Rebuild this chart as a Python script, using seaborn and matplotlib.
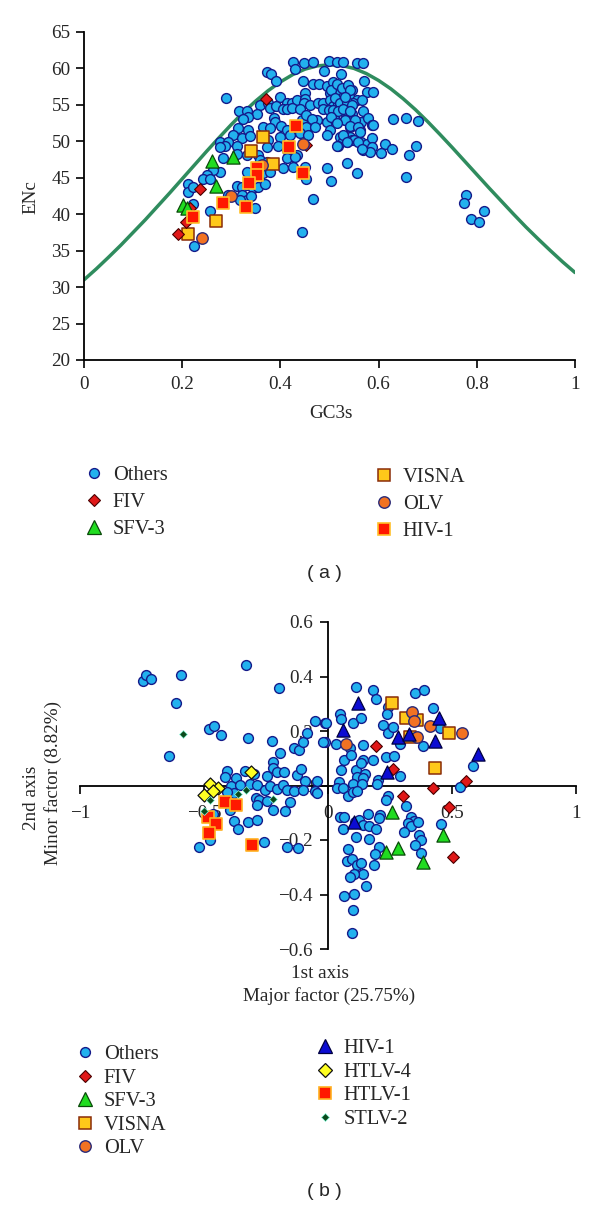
# ENc plot (a) and correspondence analysis plot (b) of retrovirus genes
import seaborn as sns
import matplotlib.pyplot as plt
from matplotlib.lines import Line2D

# ---------------- data: panel (a), GC3s vs ENc ----------------
gc3_ticks = [0, 0.2, 0.4, 0.6, 0.8, 1]
gc3_labels = ["0", "0.2", "0.4", "0.6", "0.8", "1"]
enc_ticks = [20, 25, 30, 35, 40, 45, 50, 55, 60, 65]

# expected ENc curve
curve_gc3 = [0, 0.025, 0.05, 0.075, 0.1, 0.125, 0.15, 0.175, 0.2, 0.225, 0.25, 0.275,
             0.3, 0.325, 0.35, 0.375, 0.4, 0.425, 0.45, 0.475, 0.5, 0.525, 0.55, 0.575,
             0.6, 0.625, 0.65, 0.675, 0.7, 0.725, 0.75, 0.775, 0.8, 0.825, 0.85, 0.875,
             0.9, 0.925, 0.95, 0.975, 1.0]
curve_enc = [31.0, 32.5, 34.1, 35.75, 37.5, 39.25, 41.1, 42.95, 44.85, 46.75, 48.65, 50.5,
             52.3, 54.0, 55.55, 56.95, 58.15, 59.15, 59.9, 60.35, 60.5, 60.4, 60.0, 59.3,
             58.35, 57.2, 55.85, 54.35, 52.7, 50.95, 49.15, 47.3, 45.45, 43.6, 41.8, 40.0,
             38.25, 36.6, 35.0, 33.45, 32.0]

a_others = [
    (0.425, 60.9), (0.449, 60.8), (0.466, 60.9), (0.498, 61.0), (0.515, 60.9), (0.527, 60.9),
    (0.555, 60.8), (0.569, 60.7), (0.372, 59.5), (0.381, 59.2), (0.392, 58.3), (0.430, 59.9),
    (0.489, 59.6), (0.523, 59.3), (0.571, 58.3), (0.447, 58.3), (0.467, 57.8), (0.479, 57.8),
    (0.494, 57.6), (0.508, 58.1), (0.538, 57.6), (0.545, 57.0), (0.515, 57.1), (0.501, 56.6),
    (0.521, 56.6), (0.528, 56.1), (0.542, 56.0), (0.555, 55.7), (0.576, 56.8), (0.289, 55.9),
    (0.399, 56.1), (0.413, 55.2), (0.423, 55.2), (0.433, 55.7), (0.450, 56.6), (0.450, 55.8),
    (0.449, 55.2), (0.460, 55.0), (0.477, 55.2), (0.487, 55.3), (0.501, 55.7), (0.508, 54.8),
    (0.518, 55.1), (0.531, 55.4), (0.547, 55.2), (0.567, 55.7), (0.358, 55.0), (0.375, 55.2),
    (0.379, 54.6), (0.392, 54.8), (0.405, 54.5), (0.413, 54.5), (0.424, 54.6), (0.440, 54.5),
    (0.486, 54.5), (0.498, 54.3), (0.515, 54.3), (0.528, 54.1), (0.545, 53.8), (0.569, 54.1),
    (0.316, 54.2), (0.331, 54.1), (0.352, 53.8), (0.335, 53.4), (0.324, 53.0), (0.386, 53.2),
    (0.389, 52.6), (0.443, 52.9), (0.453, 53.6), (0.474, 52.9), (0.464, 53.0), (0.494, 52.7),
    (0.511, 52.9), (0.531, 52.9), (0.548, 52.9), (0.565, 52.7), (0.579, 53.2), (0.314, 51.8),
    (0.335, 51.6), (0.365, 51.9), (0.379, 51.8), (0.402, 52.1), (0.413, 51.6), (0.440, 51.9),
    (0.453, 52.0), (0.470, 51.9), (0.501, 51.6), (0.542, 51.9), (0.562, 51.6), (0.304, 50.9),
    (0.321, 50.4), (0.338, 50.7), (0.375, 50.2), (0.399, 50.6), (0.419, 50.9), (0.440, 51.1),
    (0.457, 50.9), (0.494, 50.9), (0.521, 50.6), (0.542, 50.6), (0.555, 50.2), (0.277, 49.9),
    (0.294, 49.9), (0.287, 49.3), (0.311, 49.4), (0.372, 49.2), (0.396, 49.3), (0.413, 48.8),
    (0.433, 48.1), (0.528, 50.1), (0.535, 49.9), (0.545, 50.2), (0.565, 49.9), (0.576, 49.7),
    (0.518, 49.3), (0.569, 48.8), (0.277, 49.2), (0.284, 47.7), (0.311, 48.2), (0.331, 48.1),
    (0.355, 48.1), (0.358, 47.4), (0.372, 47.2), (0.413, 47.7), (0.430, 47.9), (0.277, 45.8),
    (0.263, 46.1), (0.250, 45.4), (0.243, 44.8), (0.256, 44.9), (0.331, 45.8), (0.365, 45.6),
    (0.379, 45.8), (0.406, 46.3), (0.426, 46.5), (0.450, 46.5), (0.494, 46.3), (0.535, 47.0),
    (0.555, 45.7), (0.212, 44.2), (0.212, 43.1), (0.223, 43.8), (0.311, 43.9), (0.321, 43.8),
    (0.331, 44.0), (0.345, 43.6), (0.355, 43.8), (0.369, 44.2), (0.453, 44.9), (0.504, 44.5),
    (0.294, 42.7), (0.321, 42.7), (0.331, 42.0), (0.341, 42.5), (0.318, 41.9), (0.348, 40.8),
    (0.223, 41.4), (0.256, 40.5), (0.467, 42.1), (0.224, 35.7), (0.443, 37.5),
    (0.588, 56.7), (0.629, 53.0), (0.656, 53.2), (0.680, 52.8), (0.587, 52.3), (0.586, 50.4),
    (0.586, 49.2), (0.582, 48.5), (0.613, 49.6), (0.627, 49.0), (0.604, 48.4), (0.676, 49.3),
    (0.662, 48.1), (0.655, 45.1), (0.778, 42.6), (0.773, 41.5), (0.815, 40.5), (0.788, 39.4),
    (0.805, 38.9), (0.504, 57.0), (0.515, 57.9), (0.525, 57.3), (0.538, 57.7), (0.542, 57.0),
    (0.511, 55.9), (0.521, 55.2), (0.535, 55.4), (0.532, 56.1), (0.545, 55.0), (0.508, 54.3),
    (0.518, 54.1), (0.528, 54.5), (0.542, 54.1), (0.504, 53.4), (0.532, 52.9), (0.552, 52.9),
    (0.515, 52.5), (0.542, 52.1), (0.559, 51.9), (0.562, 51.3), (0.528, 50.9), (0.549, 50.2),
    (0.535, 49.9), (0.559, 49.9), (0.566, 49.0), (0.516, 49.4), (0.589, 52.2),
]
a_fiv = [(0.370, 55.8), (0.236, 43.4), (0.208, 38.9), (0.192, 37.25), (0.215, 40.8), (0.452, 49.5)]
a_sfv3 = [(0.260, 47.35), (0.304, 47.8), (0.268, 43.9), (0.202, 41.3), (0.209, 40.9)]
a_visna = [(0.364, 50.55), (0.341, 48.7), (0.384, 46.9), (0.268, 39.1), (0.212, 37.25)]
a_olv = [(0.299, 42.5), (0.240, 36.8), (0.447, 49.7), (0.362, 46.8)]
a_hiv1 = [(0.432, 52.15), (0.418, 49.2), (0.352, 46.4), (0.353, 45.4), (0.337, 44.3),
          (0.447, 45.6), (0.284, 41.6), (0.330, 41.0), (0.221, 39.6)]

# ---------------- data: panel (b), correspondence analysis ----------------
ax1_ticks = [-1, -0.5, 0, 0.5, 1]
ax1_labels = ["\u22121", "\u22120.5", "0", "0.5", "1"]
ax2_ticks = [0.6, 0.4, 0.2, 0, -0.2, -0.4, -0.6]
ax2_labels = ["0.6", "0.4", "0.2", "0", "\u22120.2", "\u22120.4", "\u22120.6"]

b_others = [
    (-0.747, 0.383), (-0.735, 0.407), (-0.715, 0.389), (-0.592, 0.407), (-0.330, 0.444),
    (-0.196, 0.356), (-0.613, 0.301), (-0.641, 0.109), (-0.479, 0.209), (-0.458, 0.218),
    (-0.431, 0.185), (-0.321, 0.175), (-0.227, 0.164), (-0.193, 0.120), (-0.139, 0.138),
    (-0.115, 0.130), (-0.102, 0.160), (-0.086, 0.194), (-0.052, 0.236), (-0.012, 0.228),
    (-0.014, 0.158), (-0.408, 0.053), (-0.415, 0.032), (-0.371, 0.026), (-0.334, 0.053),
    (-0.297, 0.044), (-0.247, 0.036), (-0.220, 0.087), (-0.223, 0.065), (-0.207, 0.048),
    (-0.177, 0.048), (-0.126, 0.040), (-0.110, 0.062), (-0.092, 0.016), (-0.045, 0.016),
    (-0.392, -0.001), (-0.354, 0.001), (-0.314, 0.004), (-0.287, 0.001), (-0.254, -0.015),
    (-0.233, -0.001), (-0.207, -0.013), (-0.180, 0.001), (-0.166, -0.017), (-0.139, -0.021),
    (-0.099, -0.017), (-0.052, -0.021), (-0.043, -0.029), (-0.381, -0.029), (-0.408, -0.023),
    (-0.290, -0.045), (-0.278, -0.054), (-0.285, -0.072), (-0.244, -0.057), (-0.223, -0.090),
    (-0.173, -0.094), (-0.153, -0.060), (-0.395, -0.090), (-0.379, -0.131), (-0.361, -0.160),
    (-0.321, -0.133), (-0.287, -0.127), (-0.465, -0.103), (-0.475, -0.201), (-0.522, -0.227),
    (-0.260, -0.207), (-0.166, -0.225), (-0.119, -0.231),
    (0.183, 0.350), (0.193, 0.317), (0.351, 0.338), (0.387, 0.350), (0.112, 0.362),
    (0.243, 0.289), (0.239, 0.261), (0.048, 0.261), (0.051, 0.243), (-0.008, 0.228),
    (0.099, 0.231), (0.132, 0.246), (0.223, 0.221), (0.243, 0.193), (0.261, 0.215),
    (-0.019, 0.158), (0.031, 0.151), (0.089, 0.136), (0.140, 0.148), (0.290, 0.151),
    (0.384, 0.146), (0.425, 0.283), (0.452, 0.212), (0.586, 0.071), (0.065, 0.093),
    (0.091, 0.111), (0.140, 0.093), (0.180, 0.093), (0.234, 0.105), (0.266, 0.109),
    (0.051, 0.056), (0.113, 0.056), (0.132, 0.081), (0.116, 0.032), (0.149, 0.044),
    (0.140, 0.026), (0.099, 0.007), (0.046, 0.013), (0.136, 0.007), (0.203, 0.020),
    (0.199, 0.007), (0.290, 0.034), (0.035, -0.008), (0.059, -0.008), (0.082, -0.038),
    (0.102, -0.023), (0.118, -0.021), (0.243, -0.038), (0.234, -0.054), (0.314, -0.075),
    (0.532, -0.005), (0.048, -0.115), (0.065, -0.115), (0.059, -0.158), (0.109, -0.133),
    (0.126, -0.127), (0.140, -0.145), (0.163, -0.103), (0.167, -0.148), (0.193, -0.160),
    (0.210, -0.109), (0.207, -0.121), (0.113, -0.188), (0.167, -0.197), (0.335, -0.115),
    (0.347, -0.131), (0.324, -0.139), (0.333, -0.148), (0.364, -0.133), (0.308, -0.172),
    (0.368, -0.180), (0.374, -0.200), (0.351, -0.219), (0.454, -0.143), (0.204, -0.225),
    (0.189, -0.252), (0.082, -0.234), (0.078, -0.278), (0.095, -0.270), (0.116, -0.292),
    (0.132, -0.286), (0.140, -0.326), (0.106, -0.323), (0.089, -0.335), (0.185, -0.292),
    (0.153, -0.368), (0.375, -0.249), (0.066, -0.405), (0.106, -0.399), (0.102, -0.457),
    (0.095, -0.540),
]
b_fiv = [(0.192, 0.144), (0.263, 0.062), (0.301, -0.038), (0.425, -0.008), (0.556, 0.016),
         (0.489, -0.078), (0.505, -0.264)]
b_sfv3 = [(0.259, -0.096), (0.462, -0.182), (0.281, -0.228), (0.232, -0.243), (0.384, -0.282)]
b_visna = [(0.257, 0.303), (0.314, 0.248), (0.357, 0.240), (0.489, 0.191), (0.433, 0.066),
           (0.331, 0.179)]
b_olv = [(0.337, 0.268), (0.348, 0.237), (0.411, 0.219), (0.539, 0.193), (0.360, 0.179),
         (0.073, 0.154)]
b_hiv1 = [(0.120, 0.301), (0.059, 0.203), (0.284, 0.179), (0.326, 0.188), (0.448, 0.248),
          (0.431, 0.163), (0.603, 0.115), (0.237, 0.050), (0.106, -0.133)]
b_htlv4 = [(-0.475, 0.004), (-0.445, -0.009), (-0.500, -0.035), (-0.465, -0.021), (-0.310, 0.050)]
b_htlv1 = [(-0.415, -0.060), (-0.370, -0.072), (-0.482, -0.116), (-0.452, -0.141),
           (-0.479, -0.175), (-0.307, -0.220)]
b_stlv2 = [(-0.585, 0.190), (-0.475, -0.054), (-0.363, -0.032), (-0.332, -0.017),
           (-0.222, -0.050), (-0.500, -0.093)]

# marker styles: marker, size, face, edge, edge width
STYLE = {
    "Others": ("o", 50, "#22b1ee", "#141a8a", 1.0),
    "FIV": ("D", 36, "#e01818", "#4a0000", 0.8),
    "SFV-3": ("^", 90, "#20dc20", "#0a4a0a", 0.9),
    "VISNA": ("s", 78, "#ffc81a", "#8a2c08", 1.1),
    "OLV": ("o", 68, "#f27222", "#2a2a78", 1.0),
    "HIV-1a": ("s", 76, "#ff1800", "#ffc02a", 1.2),
    "HIV-1b": ("^", 90, "#0c0cd2", "#000040", 0.9),
    "HTLV-4": ("D", 44, "#ffff22", "#111111", 0.9),
    "HTLV-1": ("s", 80, "#ff1800", "#ffb020", 1.2),
    "STLV-2": ("D", 16, "#0a4a1c", "#8fffe0", 0.5),
}

sns.set_style("white")
plt.rcParams["font.family"] = ["Liberation Serif", "DejaVu Serif"]
plt.rcParams["axes.unicode_minus"] = True
TICK_FS = 13.8
LAB_FS = 13.8
LEG_FS = 14.8
SANS = ["Liberation Sans", "DejaVu Sans"]


def draw(ax, pts, key):
    m, s, fc, ec, lw = STYLE[key]
    xs = [p[0] for p in pts]
    ys = [p[1] for p in pts]
    sns.scatterplot(x=xs, y=ys, ax=ax, marker=m, s=s, color=fc, edgecolor=ec,
                    linewidth=lw, legend=False, zorder=3, clip_on=False)


def handle(key, label):
    m, s, fc, ec, lw = STYLE[key]
    return Line2D([], [], ls="", marker=m, markersize=s ** 0.5, markerfacecolor=fc,
                  markeredgecolor=ec, markeredgewidth=lw, label=label)


def legend(fig, items, x_px, y_px, spacing):
    fig.legend(handles=[handle(k, lab) for k, lab in items], loc="upper left",
               bbox_to_anchor=(x_px / 600, 1 - y_px / 1208), frameon=False,
               fontsize=LEG_FS, handlelength=1.0, handletextpad=0.4,
               labelspacing=spacing, borderpad=0, borderaxespad=0)


fig = plt.figure(figsize=(6, 12.08), dpi=100)

# ---------------- panel (a) ----------------
ax_a = fig.add_axes([84 / 600, 1 - 360 / 1208, 491 / 600, 328 / 1208])
sns.lineplot(x=curve_gc3, y=curve_enc, ax=ax_a, color="#2f8c5e", linewidth=2.5, zorder=2)
draw(ax_a, a_others, "Others")
draw(ax_a, a_visna, "VISNA")
draw(ax_a, a_fiv, "FIV")
draw(ax_a, a_sfv3, "SFV-3")
draw(ax_a, a_olv, "OLV")
draw(ax_a, a_hiv1, "HIV-1a")
ax_a.set_xlim(0, 1)
ax_a.set_ylim(20, 65)
ax_a.set_xticks(gc3_ticks)
ax_a.set_xticklabels(gc3_labels)
ax_a.set_yticks(enc_ticks)
for side in ["top", "right"]:
    ax_a.spines[side].set_visible(False)
for side in ["left", "bottom"]:
    ax_a.spines[side].set_color("black")
    ax_a.spines[side].set_linewidth(1.3)
ax_a.tick_params(direction="out", length=6, width=1.2, labelsize=TICK_FS, color="black",
                 left=True, bottom=True)
ax_a.tick_params(axis="y", pad=3.8)
ax_a.tick_params(axis="x", pad=5.5)
ax_a.set_xlabel("")
ax_a.set_ylabel("")
fig.text(31 / 600, 1 - 197 / 1208, "ENc", rotation=90, ha="center", va="center",
         fontsize=LAB_FS)
fig.text(331 / 600, 1 - 413 / 1208, "GC3s", ha="center", va="center", fontsize=LAB_FS)

legend(fig, [("Others", "Others"), ("FIV", "FIV"), ("SFV-3", "SFV-3")], 84, 466, 0.36)
legend(fig, [("VISNA", "VISNA"), ("OLV", "OLV"), ("HIV-1a", "HIV-1")], 374, 468, 0.36)
fig.text(324 / 600, 1 - 573 / 1208, "( a )", ha="center", va="center", fontsize=14,
         family=SANS)

# ---------------- panel (b) ----------------
ax_b = fig.add_axes([80 / 600, 1 - 949 / 1208, 496 / 600, 327 / 1208])
draw(ax_b, b_others, "Others")
draw(ax_b, b_fiv, "FIV")
draw(ax_b, b_sfv3, "SFV-3")
draw(ax_b, b_visna, "VISNA")
draw(ax_b, b_olv, "OLV")
draw(ax_b, b_hiv1, "HIV-1b")
draw(ax_b, b_htlv4, "HTLV-4")
draw(ax_b, b_htlv1, "HTLV-1")
draw(ax_b, b_stlv2, "STLV-2")
ax_b.set_xlim(-1, 1)
ax_b.set_ylim(-0.6, 0.6)
ax_b.set_xticks(ax1_ticks)
ax_b.set_xticklabels(ax1_labels)
ax_b.set_yticks(ax2_ticks)
ax_b.set_yticklabels(ax2_labels)
for side in ["top", "right"]:
    ax_b.spines[side].set_visible(False)
for side in ["left", "bottom"]:
    ax_b.spines[side].set_position("zero")
    ax_b.spines[side].set_color("black")
    ax_b.spines[side].set_linewidth(1.3)
    ax_b.spines[side].set_zorder(1)
ax_b.tick_params(direction="out", length=6, width=1.2, labelsize=TICK_FS, color="black",
                 left=True, bottom=True)
ax_b.tick_params(axis="y", pad=5)
ax_b.tick_params(axis="x", pad=8)
ax_b.set_xlabel("")
ax_b.set_ylabel("")
fig.text(320 / 600, 1 - 974 / 1208, "1st axis", ha="center", va="center", fontsize=LAB_FS)
fig.text(329 / 600, 1 - 996 / 1208, "Major factor (25.75%)", ha="center", va="center",
         fontsize=LAB_FS)
fig.text(32 / 600, 1 - 798 / 1208, "2nd axis", rotation=90, ha="center", va="center",
         fontsize=LAB_FS)
fig.text(53 / 600, 1 - 783 / 1208, "Minor factor (8.82%)", rotation=90, ha="center",
         va="center", fontsize=LAB_FS)

legend(fig, [("Others", "Others"), ("FIV", "FIV"), ("SFV-3", "SFV-3"), ("VISNA", "VISNA"),
             ("OLV", "OLV")], 75, 1045, 0.2)
legend(fig, [("HIV-1b", "HIV-1"), ("HTLV-4", "HTLV-4"), ("HTLV-1", "HTLV-1"),
             ("STLV-2", "STLV-2")], 315, 1039, 0.2)
fig.text(324 / 600, 1 - 1192 / 1208, "( b )", ha="center", va="center", fontsize=14,
         family=SANS)

fig.savefig("out.png", dpi=100, facecolor="white")
